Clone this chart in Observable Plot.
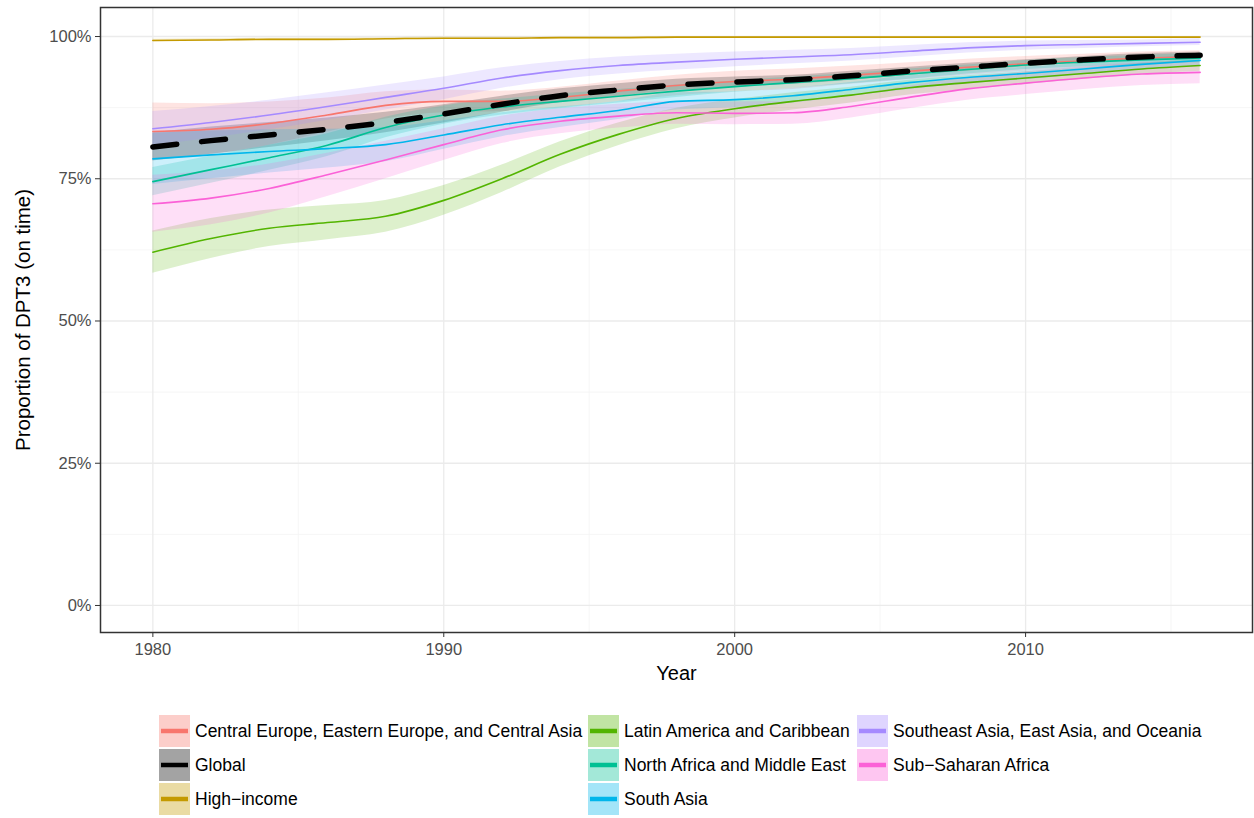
<!DOCTYPE html>
<html><head><meta charset="utf-8">
<script src="https://cdn.jsdelivr.net/npm/d3@7"></script>
<script src="https://cdn.jsdelivr.net/npm/@observablehq/plot@0.6"></script>
<style>
body{margin:0;background:#fff;font-family:"Liberation Sans",Arial,sans-serif;}
#wrap{position:relative;width:1254px;height:818px;overflow:hidden;}
#legend{position:absolute;left:0;top:714px;width:1254px;height:104px;}
.col{position:absolute;top:0;}
.item{display:flex;align-items:center;height:34px;font-size:17.5px;color:#000;white-space:nowrap;}
.key{width:31px;height:32px;margin-right:5px;display:block;}
</style></head><body><div id="wrap"><div id="chart"></div><div id="legend"></div></div>
<script>
const years = [1980,1982,1984,1986,1988,1990,1992,1994,1996,1998,2000,2002,2004,2006,2008,2010,2012,2014,2016];
const seriesNames = [
  "Central Europe, Eastern Europe, and Central Asia",
  "Global",
  "High\u2212income",
  "Latin America and Caribbean",
  "North Africa and Middle East",
  "South Asia",
  "Southeast Asia, East Asia, and Oceania",
  "Sub\u2212Saharan Africa"
];
const seriesColors = ["#F8766D","#000000","#C49A00","#53B400","#00C094","#00B6EB","#A58AFF","#FB61D7"];

const ceValues        = [.833,.837,.847,.862,.879,.886,.886,.893,.904,.914,.921,.925,.932,.939,.946,.952,.957,.962,.965];
const globalValues    = [.806,.817,.827,.837,.849,.864,.881,.896,.906,.915,.920,.924,.931,.939,.946,.953,.959,.964,.967];
const highIncValues   = [.993,.994,.995,.995,.996,.997,.997,.998,.998,.999,.999,.999,.999,.999,.999,.999,.999,.999,.999];
const latinValues     = [.621,.645,.663,.673,.684,.712,.750,.793,.828,.856,.873,.886,.897,.910,.919,.927,.935,.943,.949];
const nameValues      = [.745,.766,.787,.809,.840,.862,.876,.886,.895,.904,.912,.919,.926,.934,.942,.950,.955,.959,.962];
const southAsiaValues = [.785,.792,.798,.803,.810,.827,.845,.858,.870,.886,.889,.896,.907,.919,.928,.935,.943,.951,.958];
const seAsiaValues    = [.838,.849,.862,.877,.893,.909,.927,.940,.949,.955,.960,.964,.968,.974,.980,.984,.986,.988,.990];
const ssaValues       = [.706,.716,.733,.757,.783,.810,.836,.851,.860,.866,.865,.866,.877,.893,.908,.918,.927,.934,.937];

// half-widths of the uncertainty bands
const ceBand        = [.050,.045,.038,.030,.024,.020,.018,.018,.018,.018,.018,.018,.016,.015,.014,.013,.012,.011,.010];
const globalBand    = [.025,.024,.022,.020,.018,.016,.014,.012,.011,.010,.009,.008,.008,.007,.007,.006,.006,.006,.006];
const highIncBand   = [.002,.002,.002,.002,.002,.002,.002,.001,.001,.001,.001,.001,.001,.001,.001,.001,.001,.001,.001];
const latinBand     = [.037,.035,.032,.030,.028,.026,.024,.022,.020,.018,.016,.015,.014,.013,.012,.011,.010,.010,.010];
const nameBand      = [.025,.024,.022,.020,.018,.016,.014,.013,.012,.011,.010,.010,.009,.009,.008,.008,.008,.008,.008];
const southAsiaBand = [.045,.042,.038,.034,.030,.025,.021,.018,.016,.015,.014,.013,.012,.012,.011,.011,.010,.010,.010];
const seAsiaBand    = [.030,.028,.026,.024,.022,.020,.018,.016,.015,.014,.013,.012,.011,.010,.009,.008,.007,.006,.006];
const ssaBand       = [.050,.047,.043,.038,.033,.028,.024,.022,.021,.020,.020,.020,.020,.020,.020,.020,.020,.020,.020];

const xTicks = [1980,1990,2000,2010];
const xMinor = [1985,1995,2005,2015];
const yTicks = [0,.25,.5,.75,1];
const yMinor = [.125,.375,.625,.875];

const valueLists = [ceValues,globalValues,highIncValues,latinValues,nameValues,southAsiaValues,seAsiaValues,ssaValues];
const bandLists  = [ceBand,globalBand,highIncBand,latinBand,nameBand,southAsiaBand,seAsiaBand,ssaBand];

const rows = [];
seriesNames.forEach((s,i)=>{
  years.forEach((yr,j)=>{
    const v = valueLists[i][j], b = bandLists[i][j];
    rows.push({series:s, year:yr, value:v, lo:v-b, hi:Math.min(1.001, v+b)});
  });
});
const isGlobal = d => d.series === "Global";

const chart = Plot.plot({
  width:1254, height:690,
  marginLeft:100, marginRight:2, marginTop:7, marginBottom:58,
  style:{fontFamily:"'Liberation Sans', Arial, sans-serif", background:"#fff"},
  x:{domain:[1978.2,2017.8]},
  y:{domain:[-0.0475,1.051]},
  color:{domain:seriesNames, range:seriesColors},
  marks:[
    Plot.gridX(xMinor, {stroke:"#F4F4F4", strokeOpacity:1, strokeWidth:0.8}),
    Plot.gridY(yMinor, {stroke:"#F4F4F4", strokeOpacity:1, strokeWidth:0.8}),
    Plot.gridX(xTicks, {stroke:"#EBEBEB", strokeOpacity:1, strokeWidth:1.3}),
    Plot.gridY(yTicks, {stroke:"#EBEBEB", strokeOpacity:1, strokeWidth:1.3}),
    Plot.areaY(rows, {x:"year", y1:"lo", y2:"hi", z:"series", fill:"series", fillOpacity:0.2, curve:"monotone-x"}),
    Plot.line(rows.filter(d=>!isGlobal(d)), {x:"year", y:"value", z:"series", stroke:"series", strokeWidth:1.6, curve:"monotone-x"}),
    Plot.line(rows.filter(isGlobal), {x:"year", y:"value", stroke:"#000", strokeWidth:5.5, strokeDasharray:"24,25", curve:"monotone-x"}),
    Plot.frame({stroke:"#333", strokeWidth:1.5}),
    Plot.axisX(xTicks, {tickFormat:d=>String(d), tickSize:5, tickPadding:6, fontSize:16.5, stroke:"#333", fill:"#4D4D4D", label:null}),
    Plot.axisY(yTicks, {tickFormat:d=>Math.round(d*100)+"%", tickSize:5, tickPadding:4, fontSize:16.5, stroke:"#333", fill:"#4D4D4D", label:null}),
    Plot.text(["Year"], {frameAnchor:"bottom", dy:41, lineAnchor:"middle", textAnchor:"middle", fontSize:20, fill:"#000"}),
    Plot.text(["Proportion of DPT3 (on time)"], {frameAnchor:"left", dx:-77, lineAnchor:"middle", textAnchor:"middle", rotate:-90, fontSize:20.5, fill:"#000"})
  ]
});
document.getElementById("chart").appendChild(chart);

// legend
const legendCols = [[0,1,2],[3,4,5],[6,7]];
const colLefts = [159, 588, 857];
const legend = document.getElementById("legend");
legendCols.forEach((col,ci)=>{
  const c = document.createElement("div");
  c.className = "col";
  c.style.left = colLefts[ci] + "px";
  col.forEach(i=>{
    const it = document.createElement("div");
    it.className = "item";
    const col = seriesColors[i];
    it.innerHTML = `<svg class="key" viewBox="0 0 31 32"><rect x="0" y="0" width="31" height="32" fill="${col}" fill-opacity="0.36"/><line x1="2" y1="16" x2="29" y2="16" stroke="${col}" stroke-width="4.5"/></svg><span>${seriesNames[i]}</span>`;
    c.appendChild(it);
  });
  legend.appendChild(c);
});
</script>
</body></html>
